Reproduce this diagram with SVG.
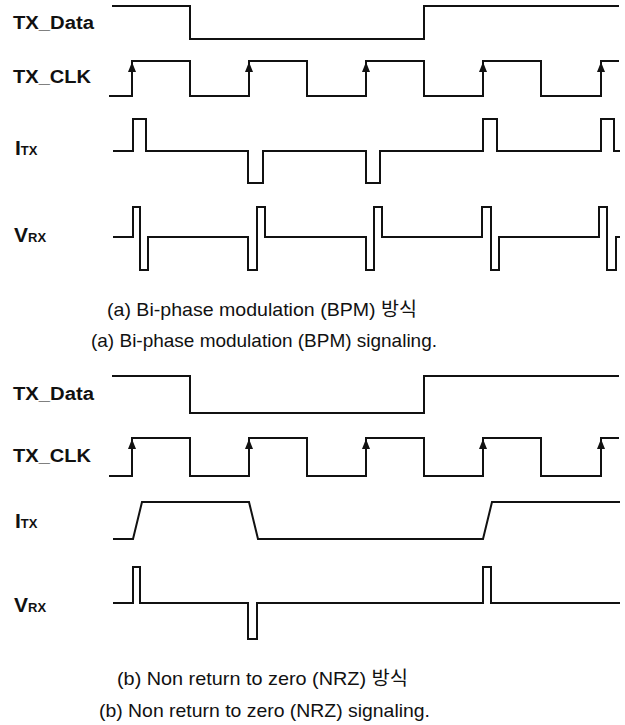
<svg xmlns="http://www.w3.org/2000/svg" width="625" height="725" viewBox="0 0 625 725">
<style>
.w{fill:none;stroke:#111;stroke-width:2;stroke-linejoin:miter;stroke-linecap:square}
.lb{font-family:"Liberation Sans",Arial,sans-serif;font-weight:bold;fill:#111}
.big{font-size:21px}
.sub{font-size:13px}
.cap{font-family:"Liberation Sans","Noto Sans CJK KR",sans-serif;font-size:19px;fill:#111}
.ar{fill:#111}
</style>
<defs>
<path id="arr" d="M0,0 L-4,10 L4,10 Z"/>
</defs>
<rect width="625" height="725" fill="#fff"/>
<g id="bpm">
<g id="bpm-labels">
<text class="lb" x="13" y="29" font-size="17.5" textLength="81" lengthAdjust="spacingAndGlyphs">TX_Data</text>
<text class="lb" x="13" y="83" font-size="17.5" textLength="78" lengthAdjust="spacingAndGlyphs">TX_CLK</text>
<text class="lb big" x="15" y="155">I<tspan class="sub">TX</tspan></text>
<text class="lb big" x="14" y="242">V<tspan class="sub">RX</tspan></text>
</g>
<g id="bpm-waves">
<path id="bpm-data" class="w" d="M113,6 H190 V39 H424 V6 H618"/>
<path id="bpm-clk" class="w" d="M110,96 H132 V61 H190 V96 H249 V61 H307 V96 H366 V61 H424 V96 H483 V61 H541 V96 H601 V61 H618"/>
<g class="ar">
<use href="#arr" x="132" y="62"/><use href="#arr" x="249" y="62"/><use href="#arr" x="366" y="62"/><use href="#arr" x="483" y="62"/><use href="#arr" x="601" y="62"/>
</g>
<path id="bpm-itx" class="w" d="M114,151 H133 V119 H146 V151 H248 V183 H263 V151 H366 V183 H380 V151 H483 V119 H497 V151 H601 V119 H614 V151 H619"/>
<path id="bpm-vrx" class="w" d="M114,237 H133 V207 H140 V270 H148 V237 H248 V270 H257 V207 H265 V237 H366 V270 H374 V207 H382 V237 H482 V207 H491 V270 H499 V237 H599 V207 H607 V270 H616 V237 H619"/>
</g>
<text class="cap" x="107" y="316" textLength="310" lengthAdjust="spacingAndGlyphs">(a) Bi-phase modulation (BPM) 방식</text>
<text class="cap" x="91" y="347" textLength="346" lengthAdjust="spacingAndGlyphs">(a) Bi-phase modulation (BPM) signaling.</text>
</g>
<g id="nrz">
<g id="nrz-labels">
<text class="lb" x="13" y="400" font-size="17.5" textLength="81" lengthAdjust="spacingAndGlyphs">TX_Data</text>
<text class="lb" x="13" y="462" font-size="17.5" textLength="78" lengthAdjust="spacingAndGlyphs">TX_CLK</text>
<text class="lb big" x="15" y="528">I<tspan class="sub">TX</tspan></text>
<text class="lb big" x="14" y="612">V<tspan class="sub">RX</tspan></text>
</g>
<g id="nrz-waves">
<path id="nrz-data" class="w" d="M113,376 H190 V413 H424 V376 H618"/>
<path id="nrz-clk" class="w" d="M110,476 H132 V438 H190 V476 H249 V438 H307 V476 H366 V438 H424 V476 H483 V438 H541 V476 H601 V438 H618"/>
<g class="ar">
<use href="#arr" x="132" y="439"/><use href="#arr" x="249" y="439"/><use href="#arr" x="366" y="439"/><use href="#arr" x="483" y="439"/><use href="#arr" x="601" y="439"/>
</g>
<path id="nrz-itx" class="w" d="M114,539 H133 L142,502 H249 L258,539 H483 L492,502 H619"/>
<path id="nrz-vrx" class="w" d="M114,603 H133 V567 H140 V603 H248 V639 H257 V603 H483 V567 H491 V603 H619"/>
</g>
<text class="cap" x="117" y="685" textLength="291" lengthAdjust="spacingAndGlyphs">(b) Non return to zero (NRZ) 방식</text>
<text class="cap" x="99" y="717" textLength="331" lengthAdjust="spacingAndGlyphs">(b) Non return to zero (NRZ) signaling.</text>
</g>
</svg>
